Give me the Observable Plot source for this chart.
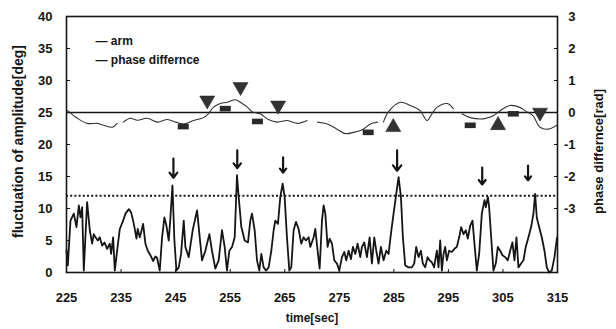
<!DOCTYPE html>
<html><head><meta charset="utf-8">
<script src="https://cdn.jsdelivr.net/npm/d3@7"></script>
<script src="https://cdn.jsdelivr.net/npm/@observablehq/plot@0.6"></script>
<style>body{margin:0;background:#fff}#chart{width:616px;height:329px}</style>
</head><body><div id="chart"></div>
<script>
// ---- data ----
const armTime = [225.0,225.24,225.73,226.34,226.83,227.26,227.56,227.87,228.17,228.78,229.27,229.70,230.0,230.31,230.74,231.10,231.53,231.96,232.45,232.94,233.18,233.55,233.85,234.28,234.77,235.38,235.81,236.42,236.84,237.21,237.45,237.82,238.06,238.43,238.68,239.04,239.47,239.90,240.38,240.87,241.30,241.60,242.09,242.52,242.95,243.32,243.74,244.05,244.42,244.78,245.15,245.57,246.0,246.49,
246.79,247.40,248.13,248.93,249.84,250.45,251.19,251.67,252.28,252.89,253.50,253.99,254.42,254.85,255.34,255.83,256.25,256.56,257.05,257.66,258.27,258.69,259.0,259.49,259.92,260.34,260.71,261.14,261.56,262.05,262.54,262.97,263.27,263.76,264.19,264.62,264.98,265.41,265.84,266.20,266.63,267.06,267.55,268.03,268.46,268.89,269.38,
269.69,270.30,270.61,271.03,271.40,271.83,272.13,272.44,272.86,273.23,273.66,274.09,274.57,275.0,275.49,275.92,276.28,276.71,277.14,277.50,277.93,278.36,278.85,279.15,279.58,280.07,280.56,280.98,281.41,281.78,282.20,282.63,283.12,283.61,284.04,284.46,284.95,285.44,285.87,286.30,286.66,287.09,287.70,288.31,288.74,289.10,289.53,289.96,290.32,290.75,291.18,291.55,291.97,292.40,
292.58,292.89,293.19,293.50,293.80,294.11,294.41,294.72,295.14,295.63,296.12,296.55,296.98,297.34,297.77,298.20,298.56,298.99,299.42,299.78,300.21,300.64,301.13,301.62,301.86,302.23,302.47,302.84,303.26,303.69,304.06,304.48,304.91,305.40,305.89,306.32,306.74,307.11,307.48,307.84,308.33,308.76,309.18,309.67,310.16,310.59,310.90,311.20,311.63,312.12,312.61,313.04,313.46,313.95,314.44,314.92];
const armDeg = [3.5,1.1,8.1,9.2,7.1,10.5,8.6,10.2,0.3,11.0,6.6,4.5,6.0,5.5,5.0,5.5,4.2,4.7,3.7,4.5,2.9,5.5,0.3,3.4,6.8,8.1,9.2,9.9,9.4,8.1,7.1,5.3,6.8,5.5,6.3,7.6,4.5,3.4,2.7,1.8,2.5,2.3,0.3,5.5,8.6,7.3,5.0,8.6,13.6,5.0,0.3,0.8,2.9,8.1,
4.0,2.4,6.6,9.7,1.9,3.4,6.0,3.4,0.6,1.9,6.6,4.0,0.3,3.4,4.0,5.5,15.2,11.8,7.1,5.0,4.7,8.1,9.2,6.6,1.9,0.3,2.9,0.8,0.3,0.8,3.4,6.6,8.1,7.6,11.8,13.9,11.8,5.5,0.3,0.8,6.6,7.9,6.8,4.5,5.5,5.0,5.5,
4.0,5.5,6.8,3.4,0.6,8.1,10.5,9.2,4.0,5.3,4.5,1.9,1.4,0.3,2.4,3.2,1.9,3.4,2.1,4.0,2.9,4.5,2.4,4.0,4.7,2.4,5.5,1.4,5.5,3.4,1.4,4.0,1.9,3.4,2.9,6.0,9.2,12.3,14.9,11.8,5.5,1.1,0.8,0.8,1.4,4.0,2.4,3.4,1.4,0.8,2.4,1.9,1.6,0.8,
1.9,3.4,0.8,5.0,0.3,2.9,4.0,1.9,3.4,3.2,3.7,4.0,5.5,7.1,6.0,6.6,5.3,7.3,8.1,4.5,0.3,2.9,9.2,11.3,10.2,11.8,10.2,5.5,0.3,1.4,4.0,3.4,2.7,2.4,1.9,3.4,4.7,1.9,5.5,0.8,1.4,1.9,4.0,5.5,7.1,9.2,12.3,8.6,7.1,5.5,3.4,0.8,0.0,0.3,2.4,5.5];

// phase difference [rad]; NaN marks a gap in the trace
const phaseTime = [225.2,227.0,228.8,230.7,231.8,233.4,234.3,234.9,235.4,236.7,238.0,239.8,241.7,243.5,245.0,246.4,248.3,250.1,251.0,251.9,253.2,254.5,256.0,257.2,258.2,259.1,260.5,262.0,263.6,265.5,267.3,269.1,270.0,271.0,272.8,274.6,276.1,277.6,279.2,280.7,282.0,282.6,283.1,284.0,286.2,288.0,289.8,291.1,292.0,292.9,294.8,295.9,296.7,297.5,299.0,301.4,303.2,305.0,306.3,308.1,309.4,310.5,311.8,313.3,314.9];
const phaseRad = [0.06,-0.18,-0.34,-0.34,-0.40,-0.46,-0.34,NaN,-0.30,-0.18,-0.24,-0.18,-0.30,-0.22,-0.30,-0.36,-0.25,-0.16,-0.04,0.16,0.28,0.32,0.40,0.28,0.16,0.02,-0.04,-0.22,-0.30,-0.25,-0.34,-0.25,NaN,-0.30,-0.36,-0.52,-0.66,-0.62,-0.54,-0.36,-0.30,NaN,-0.30,0.02,0.32,0.22,0.06,-0.25,-0.04,0.16,0.28,0.12,NaN,-0.04,-0.16,-0.20,-0.10,0.12,0.22,0.16,0.02,-0.10,-0.46,-0.52,-0.40];

const downTriTime = [250.8,256.9,263.8,311.8];
const downTriRad  = [0.38,0.80,0.22,0.0];
const upTriTime   = [284.9,304.1];
const upTriRad    = [-0.46,-0.40];
const barTime     = [246.4,254.1,260.0,280.3,299.0,306.9];
const barRad      = [-0.44,0.12,-0.28,-0.62,-0.40,-0.04];

const arrowTime = [244.6,256.3,264.7,285.6,301.2,309.6];
const arrowTop  = [17.8,19.1,18.0,19.1,16.4,16.7];
const arrowTip  = [14.8,16.3,15.6,15.9,13.75,14.4];

const thresholdDeg = 12;
const xTicks = [225,235,245,255,265,275,285,295,305,315];
const degTicks = [0,5,10,15,20,25,30,35,40];
const radTicks = [-3,-2,-1,0,1,2,3];
const zeroPhaseDeg = 25;   // phase 0 rad sits at 25 deg
const degPerRad = 5;

const legendLabels = ["— arm", "— phase differnce"];

// ---- build tables ----
const toDeg = r => zeroPhaseDeg + degPerRad * r;
const arm = armTime.map((t, i) => ({t, v: armDeg[i]}));
const phase = phaseTime.map((t, i) => ({t, v: toDeg(phaseRad[i])}));
const downTri = downTriTime.map((t, i) => ({t, v: toDeg(downTriRad[i])}));
const upTri = upTriTime.map((t, i) => ({t, v: toDeg(upTriRad[i])}));
const bars = barTime.map((t, i) => ({t, v: toDeg(barRad[i])}));
const arrows = arrowTime.map((t, i) => ({t, a: arrowTop[i], b: arrowTip[i]}));
const radTickRows = radTicks.map(r => ({r, v: toDeg(r)}));

const barSymbol = {draw(ctx) { ctx.moveTo(-5.5,-2.8); ctx.lineTo(5.5,-2.8); ctx.lineTo(5.5,2.8); ctx.lineTo(-5.5,2.8); ctx.closePath(); }};

const FONT = "Liberation Sans, Arial, sans-serif";
const ink = "#151515";

const chart = Plot.plot({
  width: 616, height: 329,
  marginLeft: 66, marginRight: 59, marginTop: 16, marginBottom: 57,
  style: {fontFamily: FONT, fontSize: "13px", fontWeight: "bold", color: ink, background: "#fff"},
  x: {domain: [225, 315]},
  y: {domain: [0, 40]},
  marks: [
    // axes: labels + inward ticks
    Plot.axisY({ticks: degTicks, tickSize: 0, tickPadding: 14, fontSize: 13, fontWeight: "bold", label: null}),
    Plot.axisY({ticks: degTicks, tickSize: 4, dx: 4, tickFormat: () => "", stroke: ink, label: null}),
    Plot.axisY({anchor: "right", ticks: radTickRows.map(d => d.v), tickSize: 4, dx: -4, tickFormat: () => "", stroke: ink, label: null}),
    Plot.text(radTickRows, {y: "v", text: d => String(d.r).replace("−", "-"), frameAnchor: "right", dx: 18, textAnchor: "end", fontSize: 13, fontWeight: "bold", fill: ink}),
    Plot.axisX({ticks: xTicks, tickSize: 0, tickPadding: 20, fontSize: 13, fontWeight: "bold", label: null}),
    Plot.axisX({ticks: xTicks, tickSize: 3, dy: -3, tickFormat: () => "", stroke: ink, label: null}),
    // axis titles
    Plot.text(["fluctuation of amplitude[deg]"], {text: d => d, frameAnchor: "left", textAnchor: "middle", lineAnchor: "middle", rotate: -90, dx: -48, dy: -3, fontSize: 14, fontWeight: "bold", fill: ink}),
    Plot.text(["phase differnce[rad]"], {text: d => d, frameAnchor: "right", textAnchor: "middle", lineAnchor: "middle", rotate: -90, dx: 41, dy: 7, fontSize: 13, fontWeight: "bold", fill: ink}),
    Plot.text(["time[sec]"], {text: d => d, frameAnchor: "bottom", lineAnchor: "middle", dy: 46, fontSize: 12, fontWeight: "bold", fill: ink}),
    // reference lines
    Plot.ruleY([zeroPhaseDeg], {stroke: ink, strokeWidth: 1.3}),
    Plot.ruleY([thresholdDeg], {stroke: ink, strokeWidth: 2, strokeDasharray: "2,2.2"}),
    // traces
    Plot.line(phase, {x: "t", y: "v", stroke: "#333", strokeWidth: 1.1, curve: "catmull-rom"}),
    Plot.line(arm, {x: "t", y: "v", stroke: ink, strokeWidth: 1.8}),
    // markers
    Plot.dot(downTri, {x: "t", y: "v", symbol: "triangle", rotate: 180, r: 5.6, fill: "#333", stroke: "#222", strokeWidth: 0.5}),
    Plot.dot(upTri, {x: "t", y: "v", symbol: "triangle", r: 5.6, fill: "#333", stroke: "#222", strokeWidth: 0.5}),
    Plot.dot(bars, {x: "t", y: "v", symbol: barSymbol, fill: "#2a2a2a"}),
    Plot.arrow(arrows, {x: "t", y1: "a", y2: "b", stroke: ink, strokeWidth: 2.2, headLength: 9, headAngle: 75}),
    // legend
    Plot.text(legendLabels.slice(0, 1), {text: d => d, frameAnchor: "top-left", lineAnchor: "middle", dx: 29, dy: 25, fontSize: 12, fontWeight: "bold", fill: ink, textAnchor: "start"}),
    Plot.text(legendLabels.slice(1), {text: d => d, frameAnchor: "top-left", lineAnchor: "middle", dx: 29, dy: 44, fontSize: 12, fontWeight: "bold", fill: ink, textAnchor: "start"}),
    Plot.frame({stroke: ink, strokeWidth: 1.6})
  ]
});
document.getElementById("chart").appendChild(chart);
</script>
</body></html>
